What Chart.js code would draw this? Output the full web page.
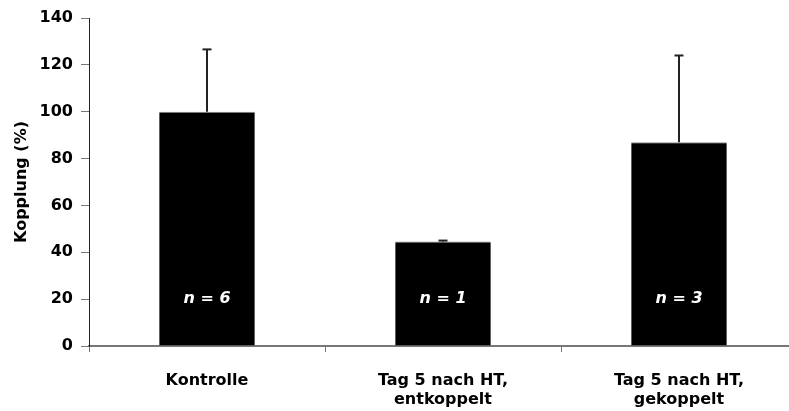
<!DOCTYPE html>
<html>
<head>
<meta charset="utf-8">
<script src="https://cdn.jsdelivr.net/npm/chart.js@4/dist/chart.umd.min.js"></script>
<style>
  html, body { margin: 0; padding: 0; background: #fff; overflow: hidden; }
  #wrap { width: 800px; height: 411px; }
</style>
</head>
<body>
<div id="wrap"><canvas id="myChart" width="800" height="411"></canvas></div>
<script>
// Chart data
const categories = [['Kontrolle'], ['Tag 5 nach HT,', 'entkoppelt'], ['Tag 5 nach HT,', 'gekoppelt']];
const kopplungValues = [100, 44.6, 87];
const errorUpper = [26.6, 0.4, 37];
const nLabels = ['n = 6', 'n = 1', 'n = 3'];
const nLabelY = 20;
const yTicks = [0, 20, 40, 60, 80, 100, 120, 140];

const fontFamily = '"DejaVu Sans", "Liberation Sans", Arial, sans-serif';

// Draw one-sided (upper) error bars and the n labels inside the bars
const errorBarPlugin = {
    id: 'errorBars',
    afterDatasetsDraw(chart) {
        const ctx = chart.ctx;
        const xScale = chart.scales.x;
        const yScale = chart.scales.y;
        const meta = chart.getDatasetMeta(0);

        ctx.save();
        meta.data.forEach((bar, i) => {
            const x = bar.x;
            const yTop = yScale.getPixelForValue(kopplungValues[i] + errorUpper[i]);
            const yBase = yScale.getPixelForValue(kopplungValues[i]);
            ctx.strokeStyle = '#222';
            ctx.lineWidth = 2;
            ctx.beginPath();
            ctx.moveTo(x, yBase);
            ctx.lineTo(x, yTop);
            ctx.stroke();
            ctx.beginPath();
            ctx.moveTo(x - 4.5, yTop);
            ctx.lineTo(x + 4.5, yTop);
            ctx.stroke();

            // n = ... label
            ctx.fillStyle = '#fff';
            ctx.font = 'italic bold 16px ' + fontFamily;
            ctx.textAlign = 'center';
            ctx.textBaseline = 'middle';
            ctx.fillText(nLabels[i], xScale.getPixelForValue(i), yScale.getPixelForValue(nLabelY));
        });
        ctx.restore();
    }
};

const ctx = document.getElementById('myChart').getContext('2d');
const kopplungChart = new Chart(ctx, {
    type: 'bar',
    data: {
        labels: categories,
        datasets: [
            {
                label: 'Kopplung',
                data: kopplungValues,
                backgroundColor: '#000',
                borderColor: '#888',
                borderWidth: { top: 1, left: 0, right: 0, bottom: 0 },
                barPercentage: 0.405,
                categoryPercentage: 1,
            },
        ],
    },
    options: {
        responsive: false,
        animation: false,
        layout: {
            padding: { top: 18, right: 3, left: 0, bottom: 0 },
        },
        plugins: {
            legend: { display: false },
            tooltip: { enabled: false },
        },
        scales: {
            x: {
                grid: {
                    offset: true,
                    drawOnChartArea: false,
                    drawTicks: true,
                    tickLength: 6,
                    color: '#777',
                },
                border: { color: '#777', width: 2 },
                ticks: {
                    color: '#000',
                    padding: 19,
                    maxRotation: 0,
                    font: { family: fontFamily, size: 16, weight: 'bold', lineHeight: 1.2 },
                },
                afterFit(scale) {
                    scale.height = 65;
                },
            },
            y: {
                min: 0,
                max: 140,
                afterBuildTicks(scale) {
                    scale.ticks = yTicks.map(v => ({ value: v }));
                },
                grid: {
                    drawOnChartArea: false,
                    tickLength: 8,
                    color: '#777',
                },
                border: { color: '#222', width: 1 },
                ticks: {
                    color: '#000',
                    padding: 8,
                    font: { family: fontFamily, size: 16, weight: 'bold' },
                },
                title: {
                    display: true,
                    text: 'Kopplung (%)',
                    color: '#000',
                    padding: { top: 12, bottom: 0 },
                    font: { family: fontFamily, size: 16, weight: 'bold' },
                },
                afterFit(scale) {
                    scale.width = 89;
                },
            },
        },
    },
    plugins: [errorBarPlugin],
});
</script>
</body>
</html>
